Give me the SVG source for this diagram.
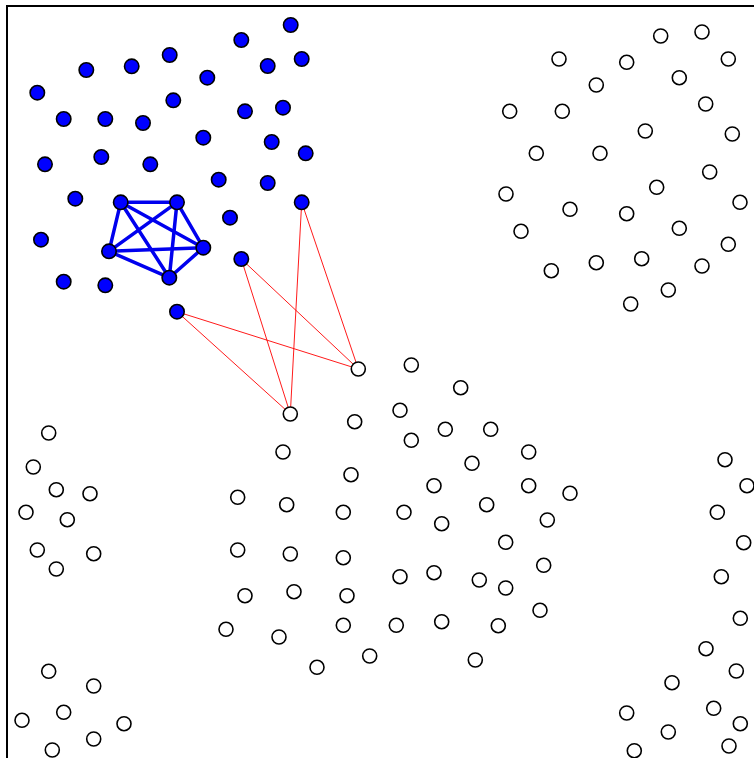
<svg xmlns="http://www.w3.org/2000/svg" width="754" height="758" viewBox="0 0 754 758">
<style>
.frame{fill:none;stroke:#000;stroke-width:2}
.in circle{fill:#0000ff;stroke:#000;stroke-width:1.6}
.out circle{fill:#fff;stroke:#000;stroke-width:1.6}
.clique line{stroke:#0000ee;stroke-width:3.5;stroke-linecap:round}
.cross line{stroke:#ff0000;stroke-width:0.9}
</style>
<rect width="754" height="758" fill="#fff"/>
<rect class="frame" x="7" y="6" width="770" height="770"/>
<g id="connectors">
<g class="clique">
<line x1="120.7" y1="202.3" x2="177" y2="202.3"/>
<line x1="120.7" y1="202.3" x2="203.3" y2="247.7"/>
<line x1="120.7" y1="202.3" x2="169.3" y2="277.7"/>
<line x1="120.7" y1="202.3" x2="109" y2="251.3"/>
<line x1="177" y1="202.3" x2="203.3" y2="247.7"/>
<line x1="177" y1="202.3" x2="169.3" y2="277.7"/>
<line x1="177" y1="202.3" x2="109" y2="251.3"/>
<line x1="203.3" y1="247.7" x2="169.3" y2="277.7"/>
<line x1="203.3" y1="247.7" x2="109" y2="251.3"/>
<line x1="169.3" y1="277.7" x2="109" y2="251.3"/>
</g>
<g class="cross">
<line x1="301.7" y1="202.3" x2="358.3" y2="369"/>
<line x1="301.7" y1="202.3" x2="290.3" y2="414"/>
<line x1="241.3" y1="259" x2="358.3" y2="369"/>
<line x1="241.3" y1="259" x2="290.3" y2="414"/>
<line x1="177" y1="311.7" x2="358.3" y2="369"/>
<line x1="177" y1="311.7" x2="290.3" y2="414"/>
</g>
</g>
<g id="nodes-in" class="in">
<g id="b1"><circle cx="290.7" cy="25" r="7.2"/></g>
<g id="b2"><circle cx="241.3" cy="40" r="7.2"/></g>
<g id="b3"><circle cx="301.7" cy="59" r="7.2"/></g>
<g id="b4"><circle cx="267.7" cy="66" r="7.2"/></g>
<g id="b5"><circle cx="169.7" cy="55" r="7.2"/></g>
<g id="b6"><circle cx="131.7" cy="66.3" r="7.2"/></g>
<g id="b7"><circle cx="86.3" cy="70" r="7.2"/></g>
<g id="b8"><circle cx="207.3" cy="77.7" r="7.2"/></g>
<g id="b9"><circle cx="37.3" cy="92.7" r="7.2"/></g>
<g id="b10"><circle cx="173.3" cy="100.3" r="7.2"/></g>
<g id="b11"><circle cx="245" cy="111.3" r="7.2"/></g>
<g id="b12"><circle cx="283" cy="107.7" r="7.2"/></g>
<g id="b13"><circle cx="63.7" cy="119" r="7.2"/></g>
<g id="b14"><circle cx="105.3" cy="119" r="7.2"/></g>
<g id="b15"><circle cx="143" cy="123" r="7.2"/></g>
<g id="b16"><circle cx="203.3" cy="137.7" r="7.2"/></g>
<g id="b17"><circle cx="271.7" cy="142" r="7.2"/></g>
<g id="b18"><circle cx="305.7" cy="153.3" r="7.2"/></g>
<g id="b19"><circle cx="45" cy="164.3" r="7.2"/></g>
<g id="b20"><circle cx="101.3" cy="157" r="7.2"/></g>
<g id="b21"><circle cx="150.3" cy="164.3" r="7.2"/></g>
<g id="b22"><circle cx="218.7" cy="179.7" r="7.2"/></g>
<g id="b23"><circle cx="267.7" cy="183" r="7.2"/></g>
<g id="b24"><circle cx="75.3" cy="198.7" r="7.2"/></g>
<g id="b25"><circle cx="120.7" cy="202.3" r="7.2"/></g>
<g id="b26"><circle cx="177" cy="202.3" r="7.2"/></g>
<g id="b27"><circle cx="301.7" cy="202.3" r="7.2"/></g>
<g id="b28"><circle cx="230" cy="217.7" r="7.2"/></g>
<g id="b29"><circle cx="41" cy="239.7" r="7.2"/></g>
<g id="b30"><circle cx="109" cy="251.3" r="7.2"/></g>
<g id="b31"><circle cx="203.3" cy="247.7" r="7.2"/></g>
<g id="b32"><circle cx="241.3" cy="259" r="7.2"/></g>
<g id="b33"><circle cx="169.3" cy="277.7" r="7.2"/></g>
<g id="b34"><circle cx="63.7" cy="281.7" r="7.2"/></g>
<g id="b35"><circle cx="105.3" cy="285.3" r="7.2"/></g>
<g id="b36"><circle cx="177" cy="311.7" r="7.2"/></g>
</g>
<g id="nodes-out" class="out">
<!-- upper right group -->
<g id="w1"><circle cx="660.7" cy="36" r="7"/></g>
<g id="w2"><circle cx="702" cy="32" r="7"/></g>
<g id="w3"><circle cx="559" cy="59" r="7"/></g>
<g id="w4"><circle cx="626.7" cy="62.3" r="7"/></g>
<g id="w5"><circle cx="728.3" cy="59" r="7"/></g>
<g id="w6"><circle cx="679.3" cy="77.7" r="7"/></g>
<g id="w7"><circle cx="596.3" cy="85" r="7"/></g>
<g id="w8"><circle cx="705.7" cy="104" r="7"/></g>
<g id="w9"><circle cx="509.7" cy="111.3" r="7"/></g>
<g id="w10"><circle cx="562.3" cy="111.3" r="7"/></g>
<g id="w11"><circle cx="645.3" cy="131" r="7"/></g>
<g id="w12"><circle cx="732.3" cy="134" r="7"/></g>
<g id="w13"><circle cx="536.3" cy="153.3" r="7"/></g>
<g id="w14"><circle cx="600" cy="153.3" r="7"/></g>
<g id="w15"><circle cx="709.7" cy="172" r="7"/></g>
<g id="w16"><circle cx="656.7" cy="187.3" r="7"/></g>
<g id="w17"><circle cx="506" cy="194" r="7"/></g>
<g id="w18"><circle cx="740" cy="202.3" r="7"/></g>
<g id="w19"><circle cx="570" cy="209.3" r="7"/></g>
<g id="w20"><circle cx="626.7" cy="213.7" r="7"/></g>
<g id="w21"><circle cx="521" cy="231.3" r="7"/></g>
<g id="w22"><circle cx="679.3" cy="228.3" r="7"/></g>
<g id="w23"><circle cx="728.3" cy="244.3" r="7"/></g>
<g id="w24"><circle cx="551.3" cy="270.7" r="7"/></g>
<g id="w25"><circle cx="596.3" cy="262.7" r="7"/></g>
<g id="w26"><circle cx="641.7" cy="258.7" r="7"/></g>
<g id="w27"><circle cx="702" cy="266" r="7"/></g>
<g id="w28"><circle cx="668.3" cy="290" r="7"/></g>
<g id="w29"><circle cx="630.7" cy="304" r="7"/></g>
<!-- centre group -->
<g id="w30"><circle cx="358.3" cy="369" r="7"/></g>
<g id="w31"><circle cx="411.3" cy="365" r="7"/></g>
<g id="w32"><circle cx="460.7" cy="387.7" r="7"/></g>
<g id="w33"><circle cx="290.3" cy="414" r="7"/></g>
<g id="w34"><circle cx="354.7" cy="421.7" r="7"/></g>
<g id="w35"><circle cx="400" cy="410.3" r="7"/></g>
<g id="w36"><circle cx="445.3" cy="429.3" r="7"/></g>
<g id="w37"><circle cx="490.7" cy="429.3" r="7"/></g>
<g id="w38"><circle cx="411.3" cy="440.3" r="7"/></g>
<g id="w39"><circle cx="283" cy="452" r="7"/></g>
<g id="w40"><circle cx="528.7" cy="452" r="7"/></g>
<g id="w41"><circle cx="472" cy="463.3" r="7"/></g>
<g id="w42"><circle cx="351" cy="474.7" r="7"/></g>
<g id="w43"><circle cx="434" cy="485.7" r="7"/></g>
<g id="w44"><circle cx="528.7" cy="485.7" r="7"/></g>
<g id="w45"><circle cx="570" cy="493.3" r="7"/></g>
<g id="w46"><circle cx="237.7" cy="497.3" r="7"/></g>
<g id="w47"><circle cx="286.7" cy="504.7" r="7"/></g>
<g id="w48"><circle cx="343.3" cy="512.3" r="7"/></g>
<g id="w49"><circle cx="404" cy="512.3" r="7"/></g>
<g id="w50"><circle cx="486.7" cy="504.7" r="7"/></g>
<g id="w51"><circle cx="441.7" cy="523.7" r="7"/></g>
<g id="w52"><circle cx="547.3" cy="520" r="7"/></g>
<g id="w53"><circle cx="505.7" cy="542.3" r="7"/></g>
<g id="w54"><circle cx="237.7" cy="550" r="7"/></g>
<g id="w55"><circle cx="290.3" cy="554" r="7"/></g>
<g id="w56"><circle cx="343.3" cy="557.7" r="7"/></g>
<g id="w57"><circle cx="543.7" cy="565.3" r="7"/></g>
<g id="w58"><circle cx="400" cy="576.7" r="7"/></g>
<g id="w59"><circle cx="434" cy="572.7" r="7"/></g>
<g id="w60"><circle cx="479.3" cy="580" r="7"/></g>
<g id="w61"><circle cx="505.7" cy="588" r="7"/></g>
<g id="w62"><circle cx="245" cy="595.7" r="7"/></g>
<g id="w63"><circle cx="294" cy="591.7" r="7"/></g>
<g id="w64"><circle cx="347" cy="595.7" r="7"/></g>
<g id="w65"><circle cx="540" cy="610.3" r="7"/></g>
<g id="w66"><circle cx="226" cy="629.3" r="7"/></g>
<g id="w67"><circle cx="279" cy="637" r="7"/></g>
<g id="w68"><circle cx="343.3" cy="625.3" r="7"/></g>
<g id="w69"><circle cx="396.3" cy="625.3" r="7"/></g>
<g id="w70"><circle cx="441.7" cy="621.7" r="7"/></g>
<g id="w71"><circle cx="498.3" cy="625.7" r="7"/></g>
<g id="w72"><circle cx="369.7" cy="656" r="7"/></g>
<g id="w73"><circle cx="475.3" cy="660" r="7"/></g>
<g id="w74"><circle cx="317" cy="667.3" r="7"/></g>
<!-- lower left group -->
<g id="w75"><circle cx="48.7" cy="433" r="7"/></g>
<g id="w76"><circle cx="33.3" cy="467" r="7"/></g>
<g id="w77"><circle cx="56.3" cy="489.7" r="7"/></g>
<g id="w78"><circle cx="90" cy="493.7" r="7"/></g>
<g id="w79"><circle cx="26" cy="512.3" r="7"/></g>
<g id="w80"><circle cx="67.3" cy="519.7" r="7"/></g>
<g id="w81"><circle cx="37.3" cy="550" r="7"/></g>
<g id="w82"><circle cx="93.7" cy="553.7" r="7"/></g>
<g id="w83"><circle cx="56.3" cy="569" r="7"/></g>
<g id="w84"><circle cx="48.7" cy="671.3" r="7"/></g>
<g id="w85"><circle cx="93.7" cy="686" r="7"/></g>
<g id="w86"><circle cx="63.7" cy="712.3" r="7"/></g>
<g id="w87"><circle cx="22" cy="720.3" r="7"/></g>
<g id="w88"><circle cx="124" cy="723.7" r="7"/></g>
<g id="w89"><circle cx="93.7" cy="739" r="7"/></g>
<g id="w90"><circle cx="52.3" cy="750" r="7"/></g>
<!-- lower right group -->
<g id="w91"><circle cx="725" cy="459.7" r="7"/></g>
<g id="w92"><circle cx="747" cy="485.7" r="7"/></g>
<g id="w93"><circle cx="717.3" cy="512.3" r="7"/></g>
<g id="w94"><circle cx="743.7" cy="542.7" r="7"/></g>
<g id="w95"><circle cx="721.3" cy="576.7" r="7"/></g>
<g id="w96"><circle cx="740.3" cy="618.3" r="7"/></g>
<g id="w97"><circle cx="706" cy="648.7" r="7"/></g>
<g id="w98"><circle cx="736.3" cy="671" r="7"/></g>
<g id="w99"><circle cx="672" cy="682.7" r="7"/></g>
<g id="w100"><circle cx="713.7" cy="708.3" r="7"/></g>
<g id="w101"><circle cx="626.7" cy="713" r="7"/></g>
<g id="w102"><circle cx="668.3" cy="732" r="7"/></g>
<g id="w103"><circle cx="740.3" cy="723.7" r="7"/></g>
<g id="w104"><circle cx="634.3" cy="750.7" r="7"/></g>
<g id="w105"><circle cx="729" cy="746" r="7"/></g>
</g>
</svg>
